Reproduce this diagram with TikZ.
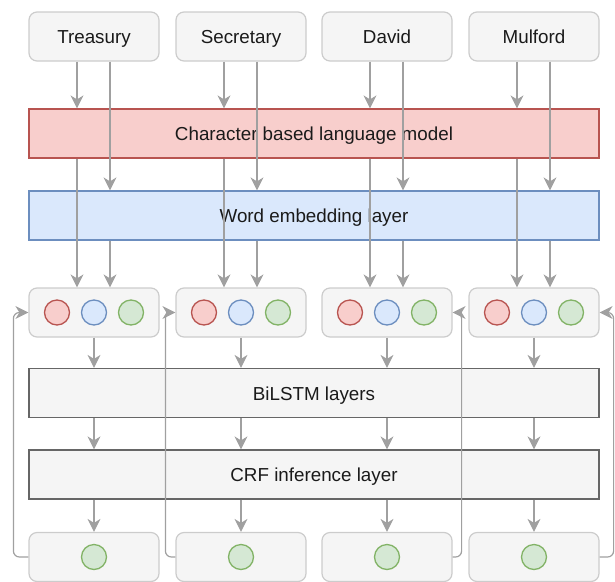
\documentclass[tikz,border=0pt]{standalone}
\usepackage{fontspec}
\setmainfont{Liberation Sans}
\usetikzlibrary{arrows.meta}
\definecolor{boxfill}{HTML}{F5F5F5}
\definecolor{lightedge}{HTML}{CCCCCC}
\definecolor{darkedge}{HTML}{666666}
\definecolor{redfill}{HTML}{F8CECC}
\definecolor{rededge}{HTML}{B85450}
\definecolor{bluefill}{HTML}{DAE8FC}
\definecolor{blueedge}{HTML}{6C8EBF}
\definecolor{greenfill}{HTML}{D5E8D4}
\definecolor{greenedge}{HTML}{82B366}
\definecolor{wire}{HTML}{A0A0A0}
\definecolor{txt}{HTML}{1A1A1A}
\tikzset{
  lbl/.style={font=\fontsize{18.8}{22}\selectfont, text=txt,
    text height=14.5pt, text depth=0pt},
  wordbox/.style={lbl, draw=lightedge, fill=boxfill, rounded corners=8pt,
    line width=1.2pt, minimum width=130pt, minimum height=49pt, inner sep=0pt},
  slotbox/.style={draw=lightedge, fill=boxfill, rounded corners=8pt,
    line width=1.2pt, minimum width=130pt, minimum height=49pt, inner sep=0pt},
  layer/.style={lbl, line width=1.2pt, minimum width=570pt, minimum height=49pt, inner sep=0pt},
  dot/.style={circle, line width=1.3pt, minimum size=25pt, inner sep=0pt},
  rdot/.style={dot, draw=rededge, fill=redfill},
  bdot/.style={dot, draw=blueedge, fill=bluefill},
  gdot/.style={dot, draw=greenedge, fill=greenfill},
  arr/.style={draw=wire, line width=1.2pt,
    -{Stealth[length=13pt, width=13pt, inset=4pt, fill=wire]}},
  back/.style={arr, rounded corners=6pt},
}
\begin{document}
\begin{tikzpicture}[x=1pt, y=-1pt]
\useasboundingbox (0,0) rectangle (615,581);
\clip (0,0) rectangle (615,581);

% word inputs
\node[wordbox] (t1) at (94,36.5)  {Treasury};
\node[wordbox] (t2) at (241,36.5) {Secretary};
\node[wordbox] (t3) at (387,36.5) {David};
\node[wordbox] (t4) at (534,36.5) {Mulford};

% shared layers
\node[layer, draw=rededge, fill=redfill] (clm) at (314,133.5) {Character based language model};
\node[layer, draw=blueedge, fill=bluefill] (emb) at (314,215.5) {Word embedding layer};

% concatenated features per word
\foreach \i/\x in {1/94, 2/241, 3/387, 4/534} {
  \node[slotbox] (c\i) at (\x,312.5) {};
  \node[rdot] (r\i) at (\x-37,312.5) {};
  \node[bdot] (u\i) at (\x,312.5) {};
  \node[gdot] (g\i) at (\x+37,312.5) {};
}

\node[layer, draw=darkedge, fill=boxfill] (lstm) at (314,393) {BiLSTM layers};
\node[layer, draw=darkedge, fill=boxfill] (crf) at (314,474.5) {CRF inference layer};

% output tags
\foreach \i/\x in {1/94, 2/241, 3/387, 4/534} {
  \node[slotbox] (o\i) at (\x,557) {};
  \node[gdot] (p\i) at (\x,557) {};
}

% character-level and word-level paths
\foreach \i in {1,2,3,4} {
  \draw[arr] ([xshift=-17pt]t\i.south) -- ([xshift=-17pt]t\i.south |- clm.north);
  \draw[arr] ([xshift=16pt]t\i.south) -- ([xshift=16pt]t\i.south |- emb.north);
  \draw[arr] ([xshift=-17pt]t\i.south |- clm.south) -- ([xshift=-17pt]c\i.north);
  \draw[arr] ([xshift=16pt]t\i.south |- emb.south) -- ([xshift=16pt]c\i.north);
  \draw[arr] (c\i.south) -- (c\i.south |- lstm.north);
  \draw[arr] (c\i.south |- lstm.south) -- (c\i.south |- crf.north);
  \draw[arr] (c\i.south |- crf.south) -- (o\i.north);
}

% predicted tags fed back
\draw[back] (o1.west) -- ++(-15,0) |- (c1.west);
\draw[back] (o2.west) -- ++(-10,0) |- (c2.west);
\draw[back] (o3.east) -- ++(9,0) |- (c3.east);
\draw[back] (o4.east) -- ++(14,0) |- (c4.east);
\end{tikzpicture}
\end{document}
